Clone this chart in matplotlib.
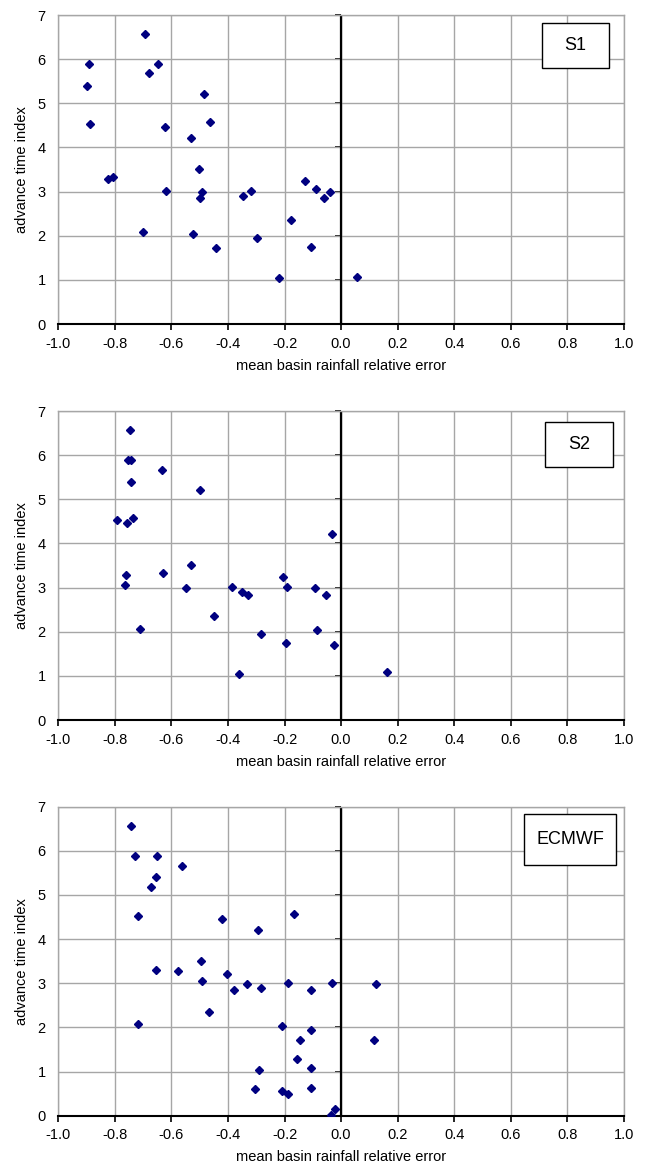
import matplotlib.pyplot as plt
from matplotlib.patches import Rectangle

plt.rcParams['font.family'] = ['Liberation Sans', 'DejaVu Sans']

# scatter values
s1_x = [-0.890, -0.899, -0.887, -0.693, -0.680, -0.648, -0.484, -0.463, -0.621, -0.529,
        -0.826, -0.807, -0.501, -0.618, -0.491, -0.498, -0.347, -0.317, -0.127, -0.088,
        -0.062, -0.038, -0.702, -0.522, -0.444, -0.296, -0.177, -0.105, -0.219, 0.058]
s1_y = [5.90, 5.40, 4.54, 6.58, 5.68, 5.90, 5.20, 4.58, 4.47, 4.22,
        3.29, 3.33, 3.51, 3.02, 2.99, 2.85, 2.91, 3.02, 3.23, 3.07,
        2.85, 2.99, 2.08, 2.04, 1.72, 1.95, 2.36, 1.74, 1.04, 1.07]

s2_x = [-0.747, -0.754, -0.743, -0.743, -0.634, -0.499, -0.794, -0.756, -0.735, -0.032,
        -0.529, -0.631, -0.762, -0.763, -0.550, -0.384, -0.352, -0.328, -0.206, -0.191,
        -0.092, -0.052, -0.712, -0.450, -0.283, -0.194, -0.086, -0.026, -0.361, 0.163]
s2_y = [6.56, 5.90, 5.90, 5.39, 5.66, 5.20, 4.53, 4.46, 4.57, 4.22,
        3.51, 3.32, 3.28, 3.06, 2.98, 3.01, 2.90, 2.84, 3.23, 3.01,
        2.98, 2.84, 2.07, 2.35, 1.95, 1.74, 2.03, 1.71, 1.04, 1.08]

ec_x = [-0.743, -0.728, -0.651, -0.564, -0.656, -0.673, -0.719, -0.422, -0.294, -0.165,
        -0.495, -0.654, -0.575, -0.404, -0.492, -0.333, -0.379, -0.282, -0.187, -0.108,
        -0.032, 0.124, -0.467, -0.717, -0.208, -0.106, -0.146, 0.118, -0.157, -0.289,
        -0.107, -0.304, -0.107, -0.208, -0.187, -0.021, -0.035]
ec_y = [6.56, 5.89, 5.88, 5.66, 5.40, 5.19, 4.52, 4.46, 4.21, 4.56,
        3.50, 3.31, 3.28, 3.22, 3.06, 2.98, 2.84, 2.90, 3.00, 2.84,
        3.00, 2.98, 2.34, 2.07, 2.03, 1.95, 1.72, 1.71, 1.28, 1.04,
        1.07, 0.60, 0.62, 0.56, 0.49, 0.14, 0.01]

panels = [
    ("S1", s1_x, s1_y, [0.0897, 0.724, 0.870, 0.2632], (0.855, 0.829, 0.118, 0.145)),
    ("S2", s2_x, s2_y, [0.0897, 0.3867, 0.870, 0.2632], (0.861, 0.820, 0.120, 0.143)),
    ("ECMWF", ec_x, ec_y, [0.0897, 0.0497, 0.870, 0.2632], (0.823, 0.810, 0.164, 0.166)),
]

xticks = [-1.0, -0.8, -0.6, -0.4, -0.2, 0.0, 0.2, 0.4, 0.6, 0.8, 1.0]
yticks = [0, 1, 2, 3, 4, 5, 6, 7]

fig = plt.figure(figsize=(6.5, 11.74), dpi=100)

for name, xs, ys, pos, box in panels:
    ax = fig.add_axes(pos)
    ax.set_xlim(-1.0, 1.0)
    ax.set_ylim(0, 7)
    ax.set_xticks(xticks)
    ax.set_xticklabels(["%.1f" % v for v in xticks])
    ax.set_yticks(yticks)
    ax.grid(True, color="#a6a6a6", linewidth=1.0)
    ax.set_axisbelow(True)
    for side in ["top", "right", "left"]:
        ax.spines[side].set_color("#a6a6a6")
        ax.spines[side].set_linewidth(1.0)
    ax.spines["bottom"].set_color("black")
    ax.spines["bottom"].set_linewidth(1.5)
    ax.tick_params(axis="x", direction="out", length=4, width=1.2, color="black",
                   labelsize=10.5, pad=5)
    ax.tick_params(axis="y", length=0, labelsize=10.5, pad=9)

    # y axis crossing at x = 0, ticks pointing left
    ax.axvline(0, color="black", linewidth=1.6, zorder=2)
    sec = ax.secondary_yaxis(0.5)
    sec.set_yticks(yticks)
    sec.set_yticklabels([])
    sec.tick_params(direction="in", length=4, width=1.2)

    ax.plot(xs, ys, linestyle="none", marker="D", markersize=3.6,
            color="#000080", zorder=3)

    ax.set_xlabel("mean basin rainfall relative error", fontsize=10.5, labelpad=6)
    ax.set_ylabel("advance time index", fontsize=10.5, labelpad=6)

    bx, by, bw, bh = box
    ax.add_patch(Rectangle((bx, by), bw, bh, transform=ax.transAxes,
                           facecolor="white", edgecolor="black", linewidth=1.0, zorder=4))
    ax.text(bx + bw / 2, by + bh / 2, name, transform=ax.transAxes,
            ha="center", va="center", fontsize=13, zorder=5)

fig.savefig("out.png", dpi=100)
